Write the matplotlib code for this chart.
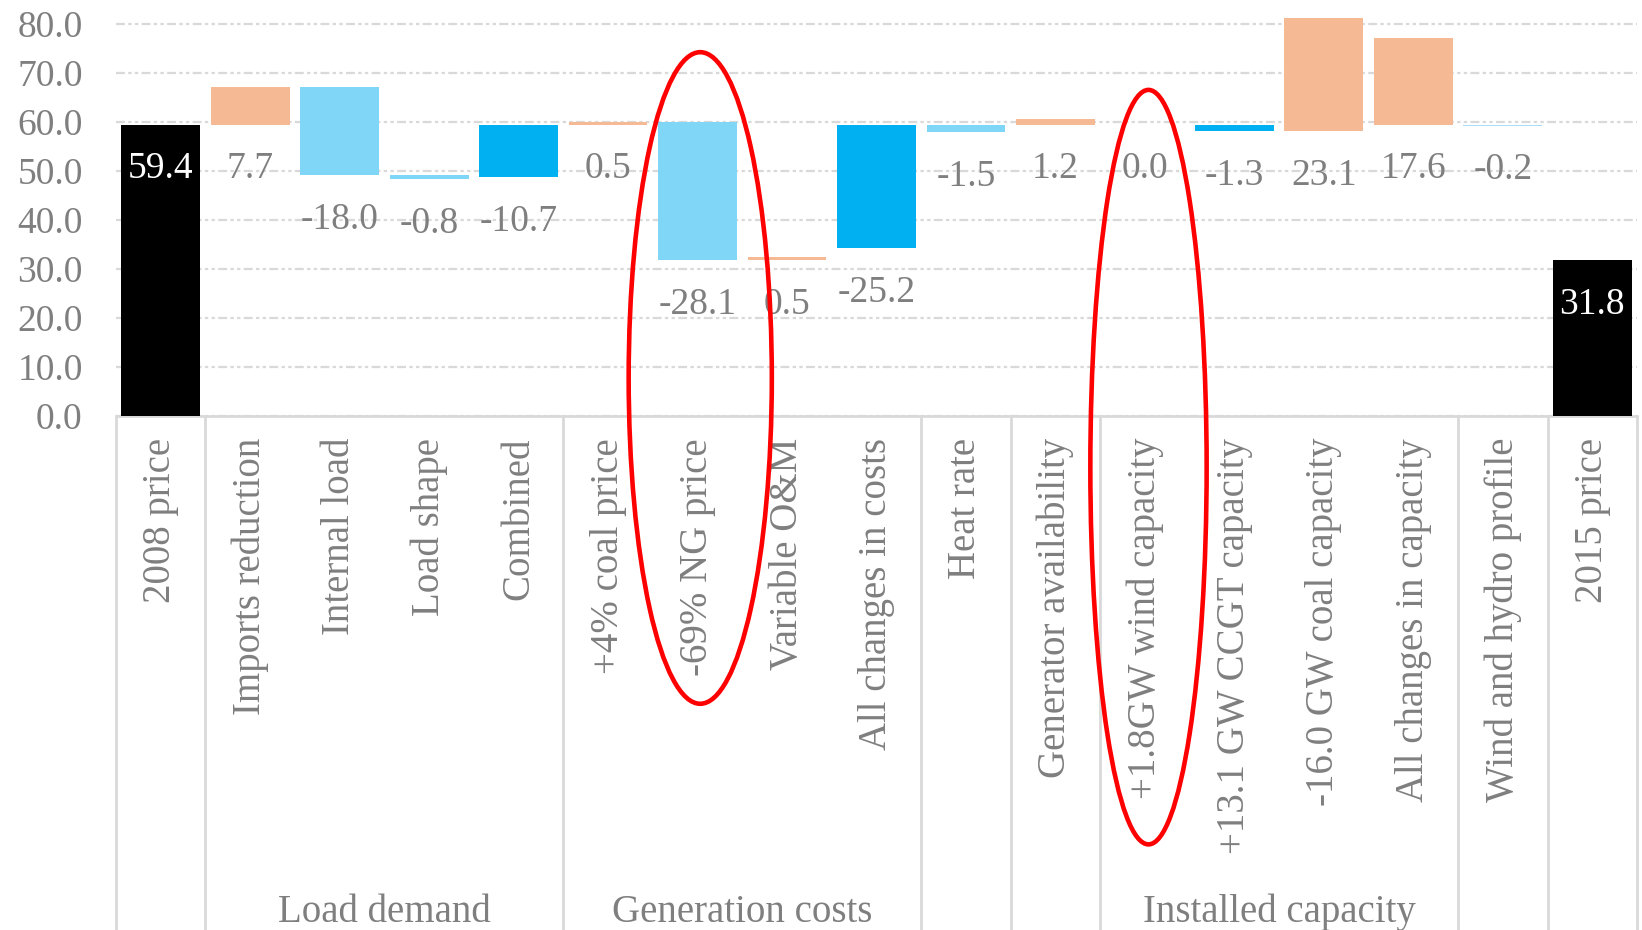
import matplotlib

matplotlib.use("Agg")

import matplotlib.pyplot as plt
from matplotlib.patches import Ellipse
from matplotlib.ticker import FormatStrFormatter

plt.rcParams["font.family"] = ["Liberation Serif", "DejaVu Serif"]

# categories along the bottom, left to right
categories = [
    "2008 price", "Imports reduction", "Internal load", "Load shape", "Combined",
    "+4% coal price", "-69% NG price", "Variable O&M", "All changes in costs",
    "Heat rate", "Generator availability",
    "+1.8GW wind capacity", "+13.1 GW CCGT capacity", "-16.0 GW coal capacity",
    "All changes in capacity", "Wind and hydro profile", "2015 price",
]
# bar values ($/MWh); totals are absolute prices, the rest are changes
values = [59.4, 7.7, -18.0, -0.8, -10.7, 0.5, -28.1, 0.5, -25.2,
          -1.5, 1.2, 0.0, -1.3, 23.1, 17.6, -0.2, 31.8]
# "total": bar from zero; "base": change starting from 2008 price;
# "next": change continuing from the end of the previous bar
kinds = ["total", "base", "next", "next", "base", "base", "next", "next", "base",
         "base", "base", "base", "base", "next", "base", "base", "total"]
# groups on the second axis level: (label, first index, last index)
groups = [("Load demand", 1, 4), ("Generation costs", 5, 8), ("Installed capacity", 11, 14)]
separators = [0.5, 4.5, 8.5, 9.5, 10.5, 14.5, 15.5, 16.5]

ORANGE = "#F5BA93"
LBLUE = "#7FD6F7"
BLUE = "#00B0F0"
PALE = "#A8DDF5"
colors = ["black", ORANGE, LBLUE, LBLUE, BLUE, ORANGE, LBLUE, ORANGE, BLUE,
          LBLUE, ORANGE, LBLUE, BLUE, ORANGE, ORANGE, PALE, "black"]
GRAY = "#7F7F7F"
LINE = "#D9D9D9"

# work out floating bar positions
base = values[0]
bottoms, heights = [], []
end = base
for v, k in zip(values, kinds):
    if k == "total":
        end = v
        bottoms.append(0.0)
        heights.append(v)
        continue
    start = base if k == "base" else end
    end = start + v
    bottoms.append(start)
    heights.append(v)

fig = plt.figure(figsize=(16.42, 9.30), dpi=100)
ax = fig.add_axes([116 / 1642, 1 - 415.7 / 930, 1521 / 1642, 415.7 / 930])

x = list(range(len(categories)))
ax.bar(x, heights, bottom=bottoms, width=0.88, color=colors, zorder=3)

ax.set_xlim(-0.5, len(categories) - 0.5)
ax.set_ylim(0, 84.85)
ax.set_yticks(range(0, 81, 10))
ax.yaxis.set_major_formatter(FormatStrFormatter("%.1f"))
ax.grid(axis="y", color=LINE, linewidth=1.6, linestyle=(0, (4, 1.5, 1.5, 1.5, 1.5, 1.5)), zorder=0)
ax.set_axisbelow(True)

for s in ["top", "right", "left"]:
    ax.spines[s].set_visible(False)
ax.spines["bottom"].set_color(LINE)
ax.spines["bottom"].set_linewidth(2)

ax.tick_params(axis="y", length=0, pad=24, labelsize=27, labelcolor=GRAY)
ax.set_xticks(x)
ax.set_xticklabels(categories, rotation=90, fontsize=28, color=GRAY)
ax.tick_params(axis="x", length=0, pad=16)

# vertical separators of the two-level category axis
ax.vlines(separators + [-0.5], -1.3, 0, transform=ax.get_xaxis_transform(),
          color=LINE, linewidth=2, clip_on=False)

for label, i0, i1 in groups:
    ax.text((i0 + i1) / 2, -1.195, label, transform=ax.get_xaxis_transform(),
            ha="center", va="center", fontsize=28, color=GRAY)

# value labels sit below the lower end of each bar (inside for totals)
for i, (v, b, k) in enumerate(zip(values, bottoms, kinds)):
    low = v if k == "total" else min(b, b + v)
    ax.annotate(f"{v:.1f}", xy=(i, low), xytext=(0, -32), textcoords="offset points",
                ha="center", va="center", fontsize=27,
                color="white" if k == "total" else GRAY, zorder=4)

# red highlight ovals
ax.add_patch(Ellipse((6.03, 7.7), 1.6, 133, fill=False, edgecolor="red",
                     linewidth=3.3, clip_on=False, zorder=5))
ax.add_patch(Ellipse((11.04, -10.5), 1.3, 154, fill=False, edgecolor="red",
                     linewidth=3.3, clip_on=False, zorder=5))

fig.savefig("out.png", dpi=100)
